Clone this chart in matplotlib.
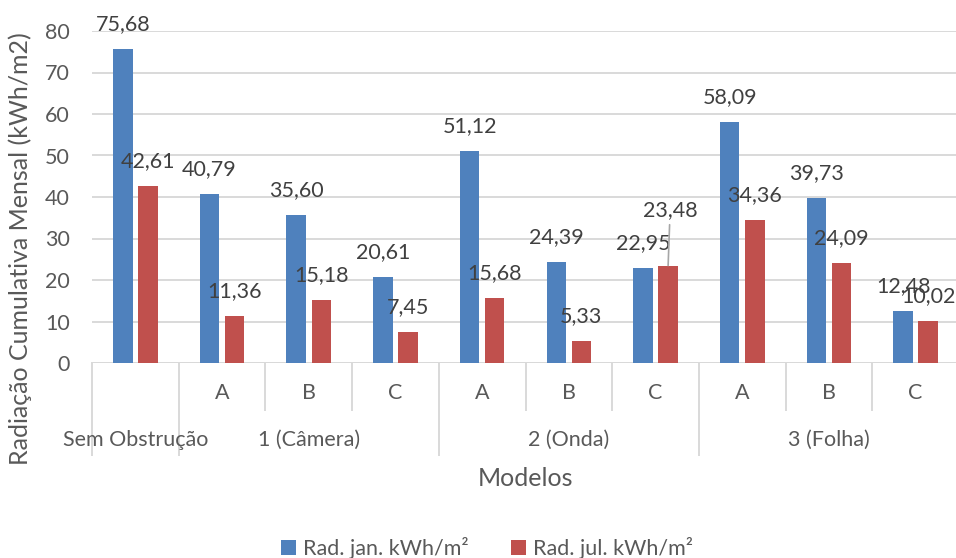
import matplotlib
matplotlib.use("Agg")
import matplotlib.pyplot as plt
import matplotlib.transforms as mtransforms
import numpy as np

# --- data ---------------------------------------------------------------
groups = ["Sem Obstrução", "1 (Câmera)", "2 (Onda)", "3 (Folha)"]
group_sizes = [1, 3, 3, 3]
subcats = ["", "A", "B", "C", "A", "B", "C", "A", "B", "C"]
rad_jan = [75.68, 40.79, 35.60, 20.61, 51.12, 24.39, 22.95, 58.09, 39.73, 12.48]
rad_jul = [42.61, 11.36, 15.18, 7.45, 15.68, 5.33, 23.48, 34.36, 24.09, 10.02]
series_names = ["Rad. jan. kWh/m²", "Rad. jul. kWh/m²"]
y_ticks = [0, 10, 20, 30, 40, 50, 60, 70, 80]

# --- style --------------------------------------------------------------
plt.rcParams["font.family"] = ["Lato", "DejaVu Sans"]
BLUE = "#4f81bd"
RED = "#c0504d"
GRID = "#d9d9d9"
TXT = "#404040"
TICK = "#595959"
FS = 15.5
FS_TITLE = 18

W, H = 956, 558
fig = plt.figure(figsize=(W / 100, H / 100), dpi=100)
ax_l, ax_r, ax_t, ax_b = 92, 959, 31, 363
ax = fig.add_axes([ax_l / W, 1 - ax_b / H, (ax_r - ax_l) / W, (ax_b - ax_t) / H])

n = len(subcats)
x = np.arange(n)
bw = 0.225
off = 0.145

ax.bar(x - off, rad_jan, bw, color=BLUE, label=series_names[0], zorder=3)
ax.bar(x + off, rad_jul, bw, color=RED, label=series_names[1], zorder=3)

ax.set_xlim(-0.5, n - 0.5)
ax.set_ylim(0, 80)
ax.set_yticks(y_ticks)
ax.set_yticklabels([str(t) for t in y_ticks], fontsize=FS, color=TICK)
ax.tick_params(axis="y", length=0, pad=16)
ax.set_xticks([])
for s in ax.spines.values():
    s.set_visible(False)
ax.yaxis.grid(True, color=GRID, linewidth=1.4, zorder=0)
ax.set_axisbelow(True)

# value labels above each bar; the 2 (Onda) C label for July is lifted
# with a leader line so it clears its neighbour
lifted = {(1, 6): 40}
pt = 72 / 100
for si, (vals, dx) in enumerate([(rad_jan, -off), (rad_jul, off)]):
    for i, v in enumerate(vals):
        txt = f"{v:.2f}".replace(".", ",")
        lift = lifted.get((si, i))
        if lift is None:
            ax.annotate(txt, (i + dx, v), xytext=(0, 25 * pt), textcoords="offset points",
                        ha="center", va="center", fontsize=FS, color=TXT, zorder=5)
        else:
            ax.annotate(txt, (i + dx, v), xytext=(2 * pt, 55 * pt), textcoords="offset points",
                        ha="center", va="center", fontsize=FS, color=TXT, zorder=5,
                        arrowprops=dict(arrowstyle="-", color="#a6a6a6", lw=1.2,
                                        shrinkA=1, shrinkB=0))

# multi-level category axis
trans = mtransforms.blended_transform_factory(ax.transData, ax.transAxes)
px = 1 / (ax_b - ax_t)
ax.axhline(0, color=GRID, linewidth=1.4, zorder=2)
bounds = np.cumsum([0] + group_sizes)
for k in range(n + 1):
    full = k in bounds
    y_end = -(455 - ax_b) * px if full else -(410 - ax_b) * px
    ax.plot([k - 0.5, k - 0.5], [0, y_end], transform=trans, color=GRID,
            linewidth=1.4, clip_on=False, zorder=2)
for i, s in enumerate(subcats):
    if s:
        ax.text(i, -(393 - ax_b) * px, s, transform=trans, ha="center", va="center",
                fontsize=FS, color=TICK)
for g, start, size in zip(groups, bounds[:-1], group_sizes):
    ax.text(start + (size - 1) / 2, -(440 - ax_b) * px, g, transform=trans,
            ha="center", va="center", fontsize=FS, color=TICK)

fig.text(525 / W, 1 - 478 / H, "Modelos", ha="center", va="center",
         fontsize=FS_TITLE, color=TICK)
fig.text(20 / W, 1 - 249 / H, "Radiação Cumulativa Mensal (kWh/m2)", rotation=90,
         ha="center", va="center", fontsize=FS_TITLE, color=TICK)

fig.legend(loc="center", bbox_to_anchor=(487 / W, 1 - 548 / H), ncol=2, frameon=False,
           fontsize=FS, labelcolor=TICK, handlelength=0.7, handleheight=0.7,
           handletextpad=0.3, columnspacing=2.0, borderaxespad=0)

fig.savefig("out.png", dpi=100)
